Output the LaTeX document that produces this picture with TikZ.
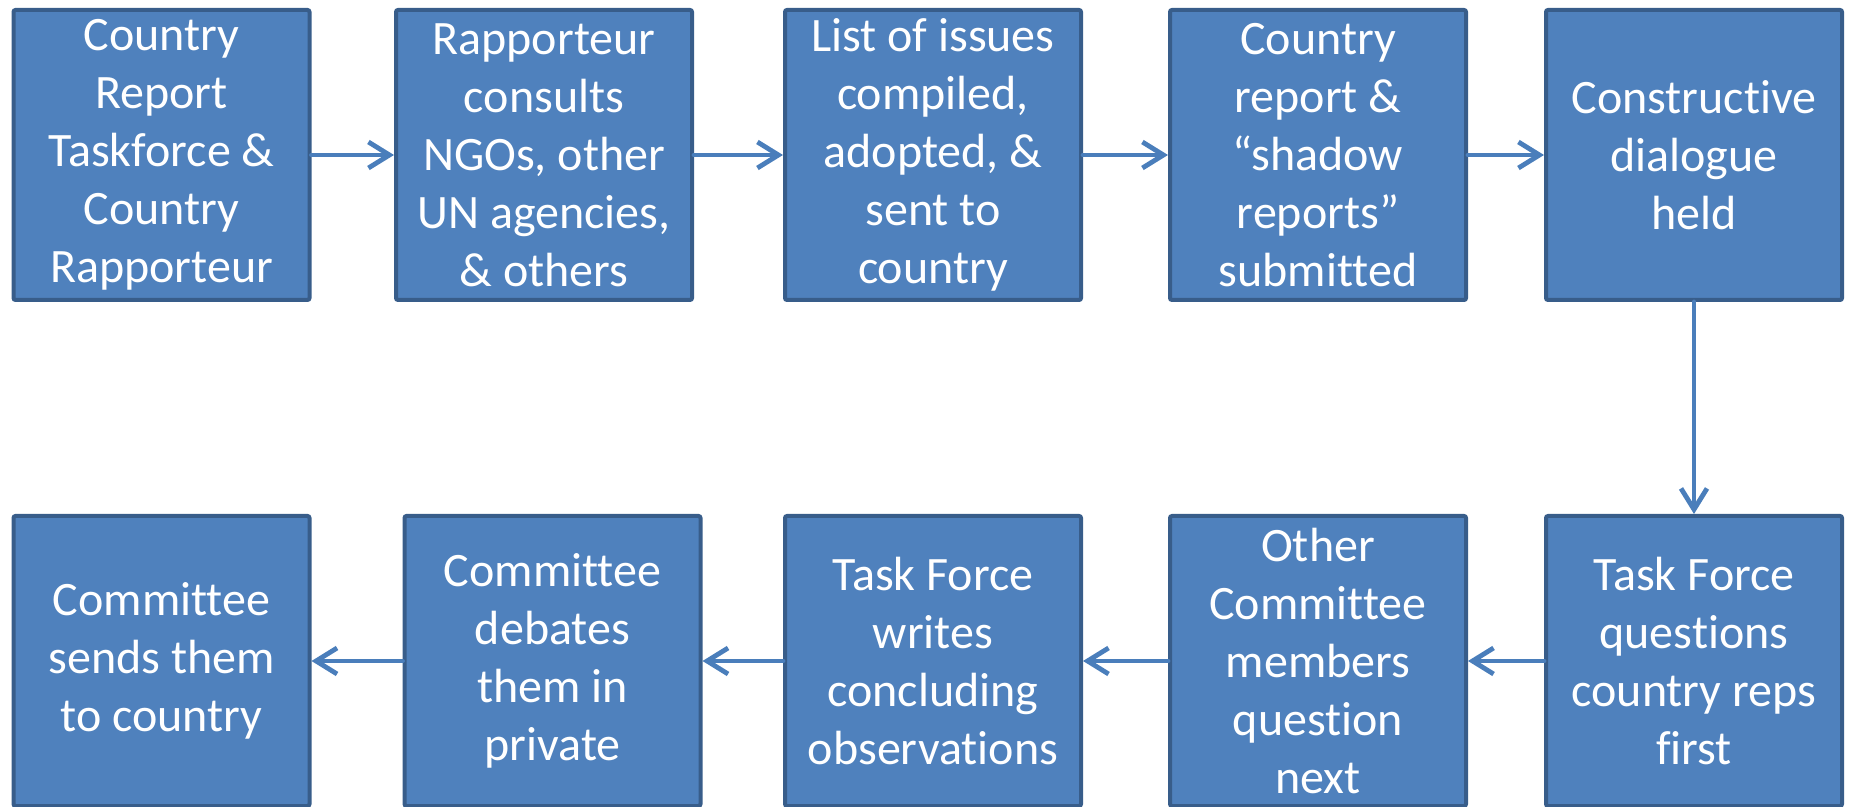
\documentclass[tikz,border=0pt]{standalone}
\usepackage{fontspec}
\setmainfont{Carlito}[Ligatures=NoCommon]
\usetikzlibrary{arrows.meta,positioning}
\definecolor{boxfill}{HTML}{4F81BD}
\definecolor{boxline}{HTML}{385D8A}
\definecolor{arrowcol}{HTML}{4A7EBB}
\tikzset{
  stage/.style={
    draw=boxline,
    fill=boxfill,
    line width=2pt,
    rounded corners=1pt,
    align=center,
    text=white,
    minimum width=148pt,
    minimum height=145pt,
    inner sep=2pt,
    font=\fontsize{24}{29}\selectfont
  },
  flow/.style={
    draw=arrowcol,
    line width=2.4pt,
    line cap=round,
    -{Straight Barb[length=10.5pt,width=13pt,line width=2.4pt]}
  }
}
\begin{document}
\begin{tikzpicture}[x=0.5pt,y=-0.5pt]
\useasboundingbox (0,0) rectangle (1849,807);

% top row
\node[stage] (rapp) at (161.5,155) {Country\\Report\\Taskforce \&\\Country\\Rapporteur};
\node[stage] (consult) at (544,155) {Rapporteur\\consults\\NGOs, other\\UN agencies,\\\& others};
\node[stage] (issues) at (933,155) {List of issues\\compiled,\\adopted, \&\\sent to\\country};
\node[stage] (shadow) at (1318,155) {Country\\report \&\\“shadow\\reports”\\submitted};
\node[stage] (dialogue) at (1694,155) {Constructive\\dialogue\\held};

% bottom row
\node[stage] (tfq) at (1694,661) {Task Force\\questions\\country reps\\first};
\node[stage] (members) at (1318,661) {Other\\Committee\\members\\question\\next};
\node[stage] (writes) at (933,661) {Task Force\\writes\\concluding\\observations};
\node[stage] (debates) at (552.5,661) {Committee\\debates\\them in\\private};
\node[stage] (sends) at (161.5,661) {Committee\\sends them\\to country};

% arrows
\draw[flow] (rapp) -- (consult);
\draw[flow] (consult) -- (issues);
\draw[flow] (issues) -- (shadow);
\draw[flow] (shadow) -- (dialogue);
\draw[flow] (dialogue) -- (tfq);
\draw[flow] (tfq) -- (members);
\draw[flow] (members) -- (writes);
\draw[flow] (writes) -- (debates);
\draw[flow] (debates) -- (sends);

\end{tikzpicture}
\end{document}
